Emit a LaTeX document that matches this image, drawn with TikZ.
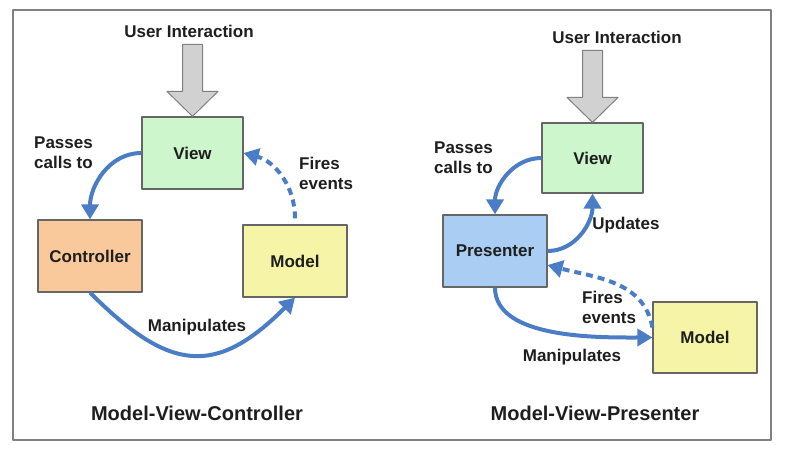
\documentclass[tikz,border=0pt]{standalone}
\usepackage{fontspec}
\setmainfont{Liberation Sans}
\usetikzlibrary{arrows.meta}
\definecolor{viewc}{HTML}{CDF6CD}
\definecolor{ctrlc}{HTML}{FAC99B}
\definecolor{modelc}{HTML}{F6F4A6}
\definecolor{presc}{HTML}{A9CDF3}
\definecolor{flowc}{HTML}{4A7DC6}
\definecolor{textc}{HTML}{1E1E1E}
\begin{document}
\begin{tikzpicture}[x=1pt, y=1pt, line join=round,
    font=\fontsize{17}{20}\selectfont\bfseries, text=textc,
    box/.style={draw=black!60, line width=1.2pt, minimum width=104pt, minimum height=72pt, inner sep=0pt},
    flow/.style={draw=flowc, line width=4pt, -{Triangle[length=15pt,width=17pt]}},
    fires/.style={flow, dash pattern=on 7pt off 5pt},
    uiarrow/.style={draw=black!50, fill=black!18, line width=1pt},
    lbl/.style={align=left, anchor=west, inner sep=0pt},
    title/.style={font=\fontsize{20}{24}\selectfont\bfseries}]
    \useasboundingbox (0,0) rectangle (790,455);
    \draw[black!50, line width=1.5pt] (13,15) rectangle (771,445);
    % Model-View-Controller
    \node[box, fill=viewc, minimum width=101pt] (vL) at (192.5,302) {View};
    \node[box, fill=ctrlc] (cL) at (90,199) {Controller};
    \node[box, fill=modelc] (mL) at (295,194) {Model};
    \node (uiL) at (189,424) {User Interaction};
    \node[lbl] (pcL) at (34,302) {Passes\\calls to};
    \node[lbl] (feL) at (299,282) {Fires\\events};
    \node (maL) at (197,128) {Manipulates};
    \node[title] (tL) at (197,42) {Model-View-Controller};
    \draw[flow] (vL.west) to[out=180,in=90] (cL.north);
    \draw[fires] ([yshift=6pt]mL.north) to[out=90,in=-15] (vL.east);
    \draw[flow] (cL.south) to[out=-45,in=-135,looseness=1.4] (mL.south);
    % Model-View-Presenter
    \node[box, fill=viewc, minimum width=101pt, minimum height=70pt] (vR) at (592.5,297) {View};
    \node[box, fill=presc] (pR) at (495,204) {Presenter};
    \node[box, fill=modelc, minimum height=71pt] (mR) at (705,117.5) {Model};
    \node (uiR) at (617,418) {User Interaction};
    \node[lbl] (pcR) at (434,297) {Passes\\calls to};
    \node (upR) at (626,230) {Updates};
    \node[lbl] (feR) at (582,148) {Fires\\events};
    \node (maR) at (572,98) {Manipulates};
    \node[title] (tR) at (595,42) {Model-View-Presenter};
    \draw[flow] (vR.west) to[out=180,in=90] (pR.north);
    \draw[flow] (pR.east) to[out=0,in=-90] (vR.south);
    \draw[fires] ([yshift=10pt]mR.west) to[out=100,in=-15] ([yshift=-14pt]pR.east);
    \draw[flow] (pR.south) to[out=-90,in=180,looseness=0.8] (mR.west);
    % user interaction arrows
    \foreach \v in {vL,vR}
        \draw[uiarrow] (\v.north) -- ++(25.5,25) -- ++(-15.5,0) -- ++(0,47) -- ++(-20,0) -- ++(0,-47) -- ++(-15.5,0) -- cycle;
\end{tikzpicture}
\end{document}
